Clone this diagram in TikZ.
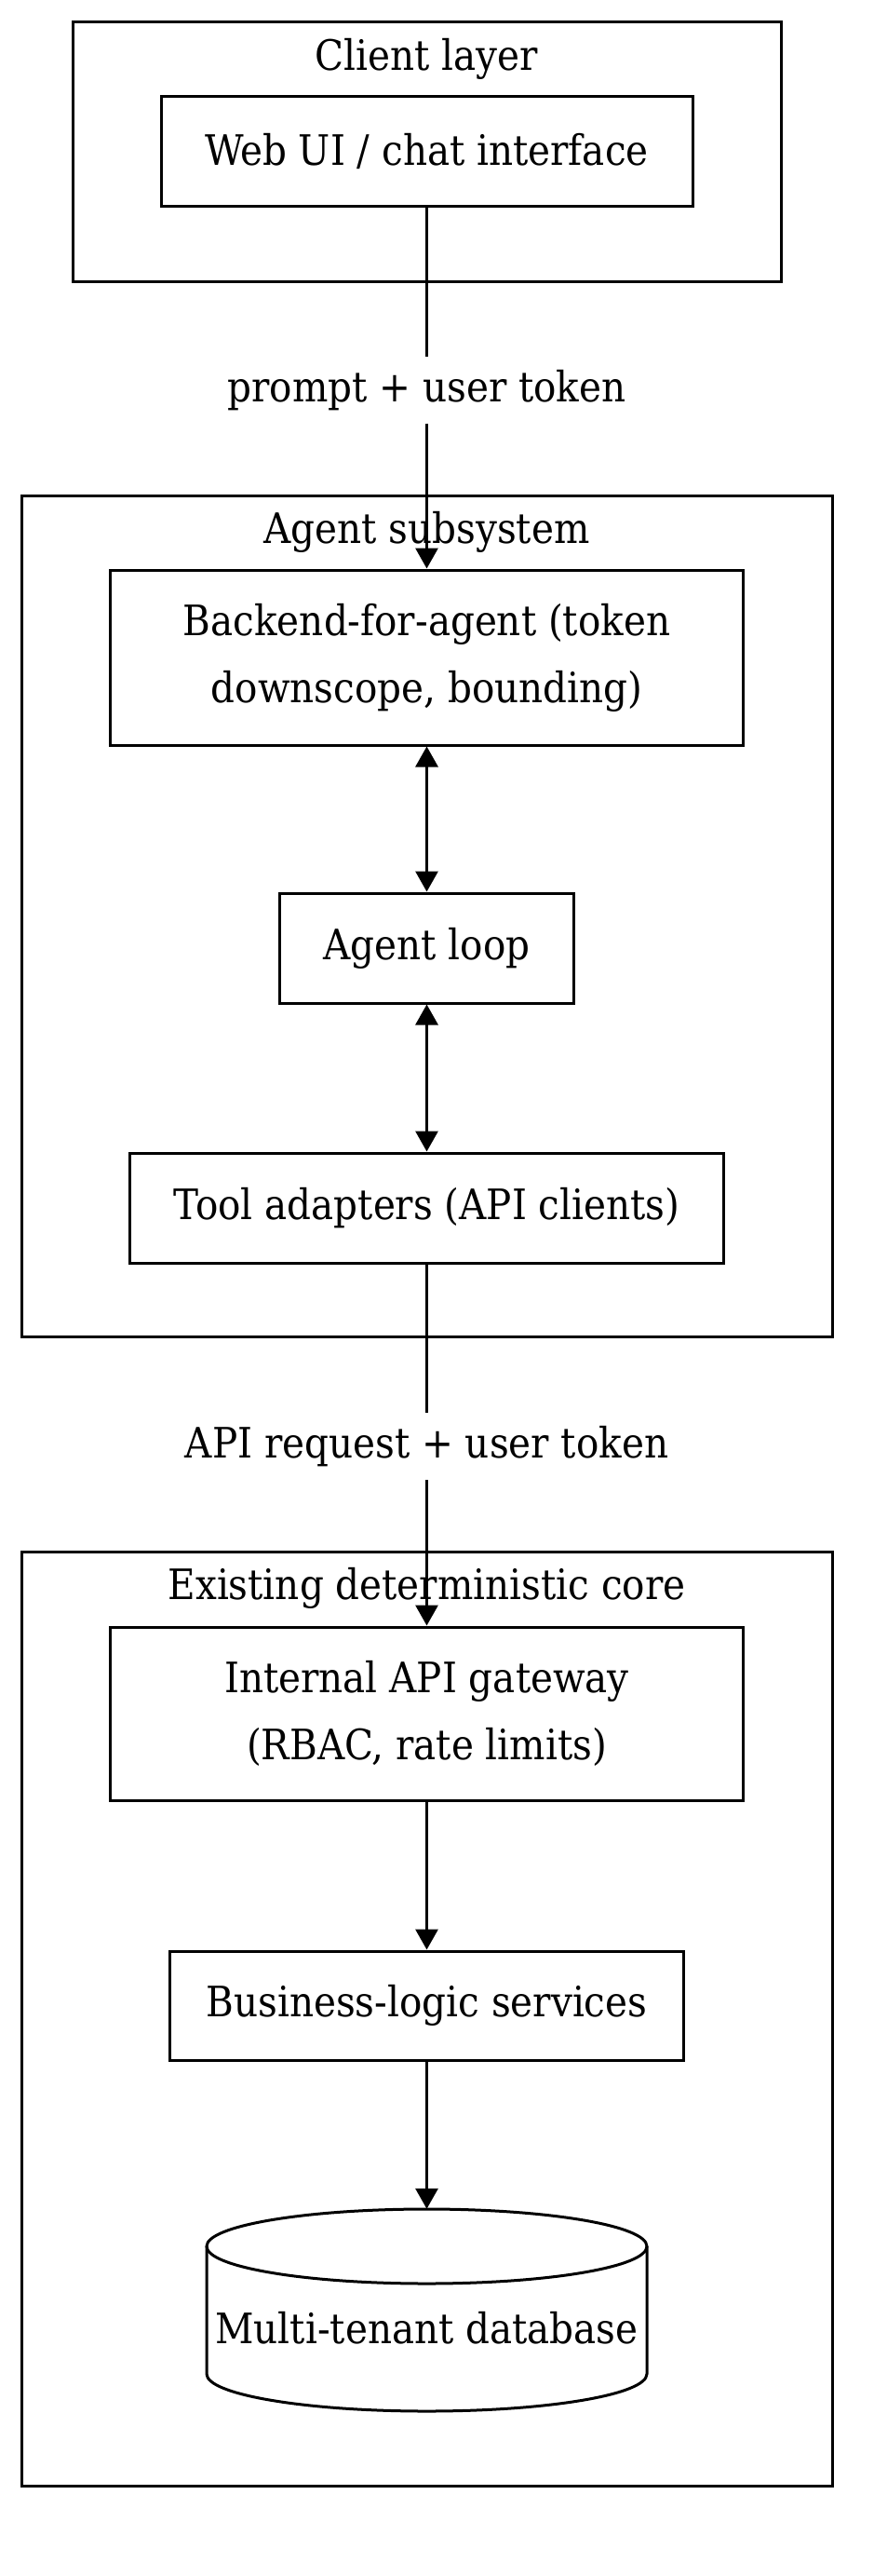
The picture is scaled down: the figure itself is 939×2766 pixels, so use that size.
\documentclass[tikz,border=0pt]{standalone}
\usepackage{fontspec}
\setmainfont{DejaVu Serif Condensed}
\usetikzlibrary{arrows.meta}
\begin{document}
\begin{tikzpicture}[x=1pt,y=-1pt,
  every node/.style={font=\fontsize{45pt}{72pt}\selectfont, inner sep=0pt},
  grp/.style={draw, line width=3pt, rectangle},
  box/.style={draw, line width=3pt, rectangle, align=center},
  conn/.style={line width=3pt},
  arr/.style={line width=3pt, -{Triangle[length=22pt,width=24pt]}},
  barr/.style={line width=3pt, {Triangle[length=22pt,width=24pt]}-{Triangle[length=22pt,width=24pt]}}
]
\path[use as bounding box, fill=white] (0,0) rectangle (939,2766);

% groups
\node[grp, minimum width=761pt, minimum height=279pt] (client) at (458.5,162.5) {};
\node (clienttitle) at (458.5,63) {Client layer};
\node[grp, minimum width=871pt, minimum height=903pt] (agent) at (458.5,983.5) {};
\node (agenttitle) at (458.5,571) {Agent subsystem};
\node[grp, minimum width=871pt, minimum height=1003pt] (core) at (458.5,2167.5) {};
\node (coretitle) at (458.5,1705) {Existing deterministic core};

% boxes
\node[box, minimum width=571pt, minimum height=118pt] (web) at (458.5,162) {Web UI / chat interface};
\node[box, minimum width=680pt, minimum height=188pt] (backend) at (458.5,706) {\raisebox{0pt}[0pt][0pt]{}Backend-for-agent (token\\downscope, bounding)};
\node[box, minimum width=316pt, minimum height=118pt] (loop) at (458.5,1018) {Agent loop};
\node[box, minimum width=638pt, minimum height=118pt] (tool) at (458.5,1297) {Tool adapters (API clients)};
\node[box, minimum width=680pt, minimum height=186pt] (gateway) at (458.5,1840) {Internal API gateway\\(RBAC, rate limits)};
\node[box, minimum width=552pt, minimum height=117pt] (biz) at (458.5,2153.5) {Business-logic services};

% database cylinder
\node[minimum width=473pt, minimum height=217pt] (db) at (458.5,2480.5) {};
\draw[line width=3pt] (222,2412) -- (222,2549) arc[start angle=180, end angle=360, x radius=236.5pt, y radius=40pt] -- (695,2412);
\draw[line width=3pt] (458.5,2412) ellipse[x radius=236.5pt, y radius=40pt];
\node (dbtext) at (458.5,2500) {Multi-tenant database};

% edge labels
\node[minimum height=71pt] (lbl1) at (458.5,419) {prompt + user token};
\node[minimum height=72pt] (lbl2) at (458.5,1553) {API request + user token};

% connectors
\draw[conn] (web.south) -- (lbl1.north);
\draw[arr] (lbl1.south) -- (backend.north);
\draw[barr] (backend.south) -- (loop.north);
\draw[barr] (loop.south) -- (tool.north);
\draw[conn] (tool.south) -- (lbl2.north);
\draw[arr] (lbl2.south) -- (gateway.north);
\draw[arr] (gateway.south) -- (biz.north);
\draw[arr] (biz.south) -- (db.north);
\end{tikzpicture}
\end{document}
